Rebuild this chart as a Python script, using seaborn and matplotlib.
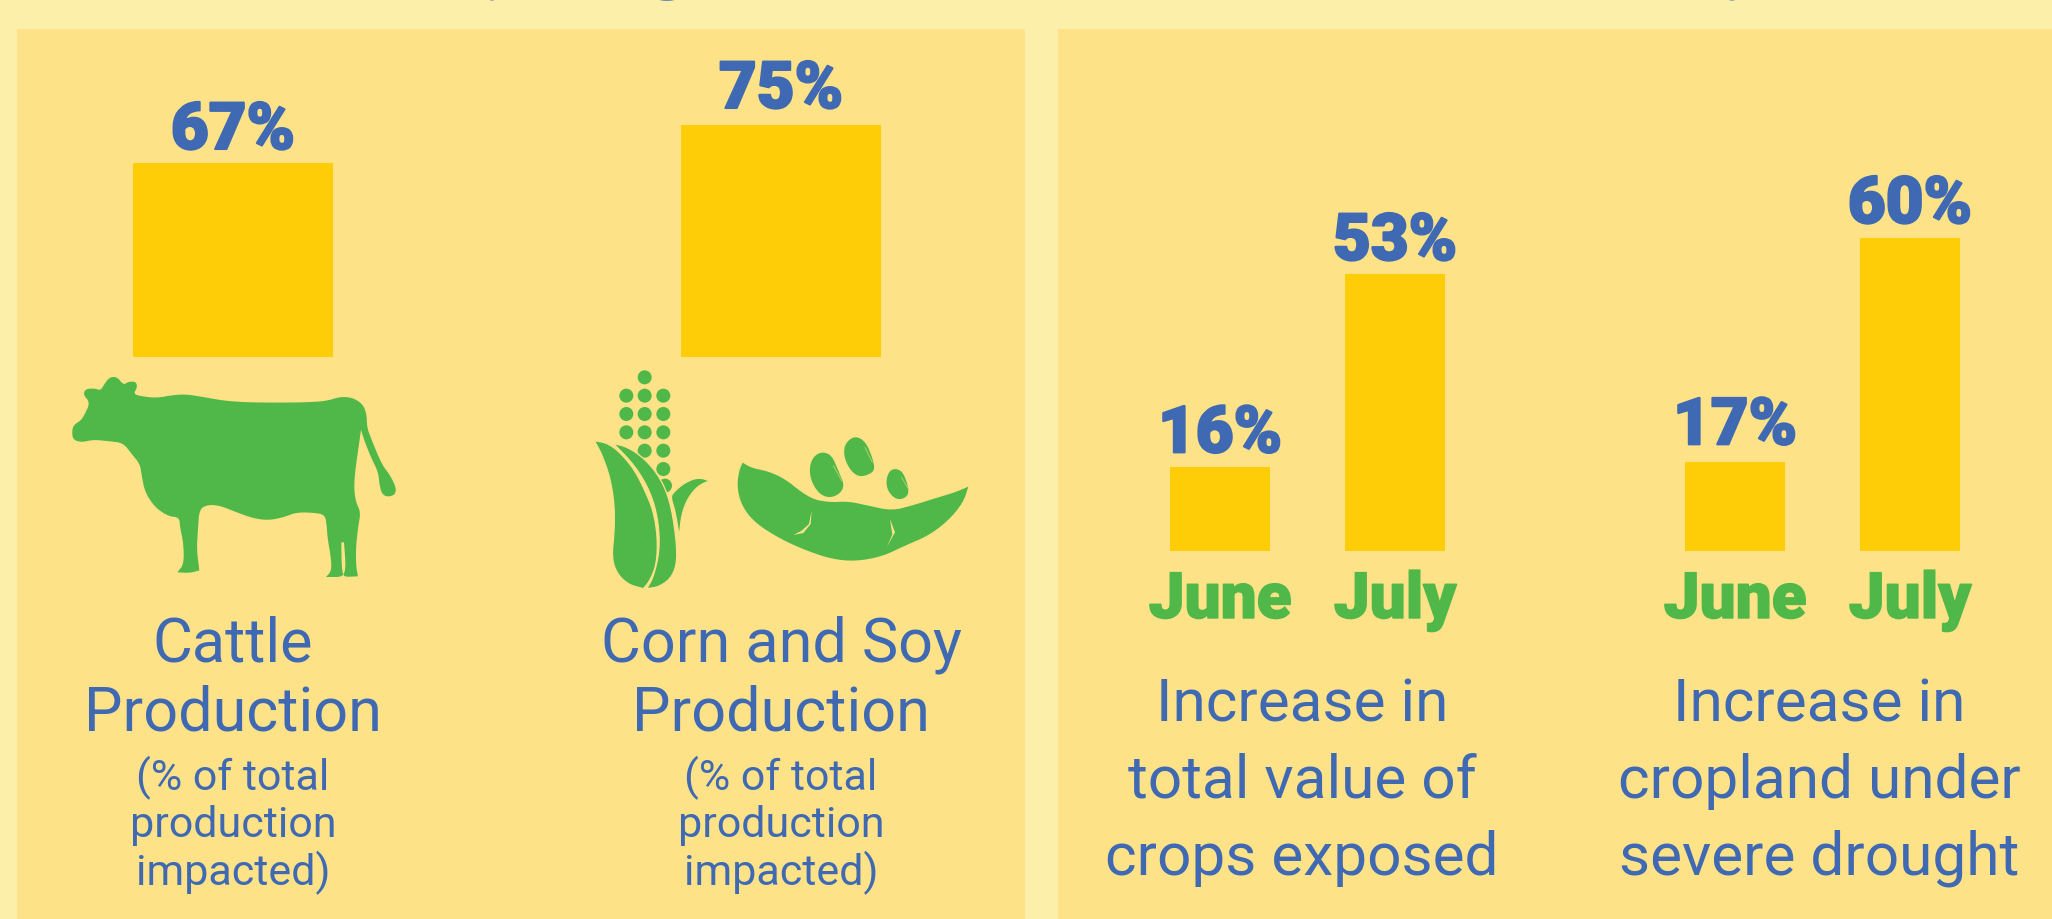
import numpy as np
import pandas as pd
import seaborn as sns
import matplotlib.pyplot as plt
import matplotlib.patheffects as pe
from matplotlib.patches import Rectangle, Ellipse, Polygon, Circle

# DATA
cattle_value = [67]
corn_soy_value = [75]
months = ["June", "July"]
crop_value = [16, 53]
cropland_value = [17, 60]

cattle_title = ["Cattle", "Production"]
corn_soy_title = ["Corn and Soy", "Production"]
note_lines = ["(% of total", "production", "impacted)"]
crop_title = ["Increase in", "total value of", "crops exposed"]
cropland_title = ["Increase in", "cropland under", "severe drought"]

# COLORS
BG = "#FBEFAA"
PANEL = "#FDE288"
BAR = "#FFCC08"
BLUE = "#3F69B3"
GREEN = "#50B849"

# ICON OUTLINES (traced, in pixels of the icon crop)
cow_outline = [(36,180),(45,165),(62,155),(75,135),(90,100),(70,78),(76,60),(105,58),(122,65),(135,42),(150,24),(172,24),
    (190,48),(205,38),(228,38),(232,55),(220,75),(245,82),(290,87),(340,78),(380,76),(430,84),(490,95),(560,100),
    (650,101),(740,100),(800,96),(840,83),(878,86),(908,105),(920,135),(921,175),(932,205),(948,245),(968,290),
    (990,318),(1008,355),(1006,376),(985,384),(966,376),(958,345),(955,310),(933,265),(913,215),(903,182),(903,182),(895,240),
    (885,310),(882,360),(888,400),(902,430),(895,470),(888,530),(888,590),(894,622),(894,622),(846,624),(858,600),(852,520),(852,520),
    (844,520),(844,520),(845,600),(852,624),(798,624),(798,624),(815,605),(812,560),(803,510),(800,470),(795,437),(760,431),(710,430),
    (670,445),(625,454),(580,448),(530,430),(480,410),(445,407),(418,420),(414,480),(410,540),(418,604),(418,604),(390,612),
    (352,610),(352,610),(372,585),(370,520),(360,475),(358,445),(325,442),(285,415),(255,370),(245,320),(240,285),(215,255),
    (190,222),(150,217),(100,212),(65,220),(38,212)]
corn_left_leaf = [(28,230),(28,230),(28,230),(70,238),(110,270),(150,320),(180,380),(205,440),(218,520),(215,600),(195,650),(175,674),(175,674),
    (130,662),(95,628),(80,580),(88,500),(88,420),(75,340),(50,270)]
corn_right_leaf = [(85,238),(85,238),(85,238),(130,250),(180,285),(225,340),(255,410),(272,510),(277,590),(262,638),(225,668),(185,674),(185,674),
    (205,640),(224,560),(220,470),(197,385),(150,305)]
corn_side_leaf = [(374,350),(374,350),(374,350),(340,340),(300,355),(265,385),(257,400),(270,440),(283,518),(283,518),(283,518),(290,450),(310,400),(340,365)]
corn_dots = [(179,40),(124,95),(179,95),(235,95),(124,150),(179,150),(235,150),(124,205),(179,205),(235,205),
    (179,260),(235,260),(235,315),(240,365)]
pod_outline = [(473,296),(473,296),(500,312),(550,322),(600,345),(650,385),(690,408),(740,415),(790,412),(850,425),(920,440),
    (980,425),(1060,400),(1110,385),(1150,368),(1150,368),(1150,368),(1135,415),(1090,470),(1030,515),(960,545),(890,578),(810,592),
    (740,585),(670,562),(590,527),(510,477),(470,425),(456,370),(462,320)]
pod_marks = [[(680,440),(672,480),(650,500),(625,513),(655,507),(677,480)],
    [(915,465),(930,505),(905,550),(922,512)]]
beans = [[(710,263),(740,273),(760,320),(779,365),(762,392),(730,402),(700,387),(678,350),(673,310),(685,278)],
    [(810,215),(842,233),(862,280),(870,317),(852,332),(820,339),(793,315),(776,275),(780,238)],
    [(935,313),(957,328),(974,385),(957,405),(930,405),(908,380),(903,350),(913,320)]]
bean_marks = [[(745,305),(770,350)], [(840,250),(862,295)], [(950,340),(968,372)]]
# stray descenders of the cut off heading
cut_heading_marks = [(492, 0, 3, 3), (667, 0, 9, 3.5), (1732, 0, 4, 3)]


def smooth(points, n_iter=2):
    pts = np.array(points, dtype=float)
    for _ in range(n_iter):
        nxt = np.roll(pts, -1, axis=0)
        pts = np.column_stack([0.75 * pts + 0.25 * nxt, 0.25 * pts + 0.75 * nxt]).reshape(-1, 2)
    return pts


def to_px(points, x0, y0):
    return np.array(points, dtype=float) / 3 + [x0, y0]


def bar_axes(fig, left, right, top, bottom):
    ax = fig.add_axes([left / W, 1 - bottom / H, (right - left) / W, (bottom - top) / H])
    ax.patch.set_alpha(0)
    return ax


def plot_bars(ax, names, values, width, pads):
    df = pd.DataFrame({"name": names, "value": values})
    sns.barplot(data=df, x="name", y="value", ax=ax, color=BAR, saturation=1, width=width, linewidth=0, edgecolor="none")
    ax.set_xlim(*XLIMS[len(names)])
    ax.set_ylim(0, max(values))
    ax.set_axis_off()
    for i, v in enumerate(values):
        ax.annotate("{}%".format(v), (i, v), xytext=(0, pads[i] * 0.72), textcoords="offset points",
                    ha="center", va="baseline", color=BLUE, fontsize=47, fontweight="black", annotation_clip=False,
                    path_effects=[pe.withStroke(linewidth=1.5, foreground=BLUE)])


def center_text(ax, x, y, text, size, color=BLUE, weight="normal", stroke=0):
    t = ax.text(x, y, text, ha="center", va="baseline", fontsize=size, color=color, fontweight=weight)
    if stroke:
        t.set_path_effects([pe.withStroke(linewidth=stroke, foreground=color)])


W, H = 2052, 920
XLIMS = {1: (-0.5, 0.5), 2: (-0.5, 1.5)}

sns.set_theme(style="white")
plt.rcParams["font.family"] = ["Roboto", "DejaVu Sans"]

fig = plt.figure(figsize=(W / 100, H / 100), dpi=100, facecolor=BG)

# BACKGROUND LAYER, IN PIXELS
bg = fig.add_axes([0, 0, 1, 1])
bg.set_xlim(0, W)
bg.set_ylim(H, 0)
bg.set_axis_off()
bg.add_patch(Rectangle((17, 30), 1008, 890, color=PANEL, lw=0))
bg.add_patch(Rectangle((1058, 30), 994, 890, color=PANEL, lw=0))
for x, y, w, h in cut_heading_marks:
    bg.add_patch(Ellipse((x, y), w * 2, h, color=BLUE, lw=0))

# COW
bg.add_patch(Polygon(smooth(to_px(cow_outline, 60, 370)), closed=True, color=GREEN, lw=0))

# CORN
for p in to_px(corn_dots, 585, 365):
    bg.add_patch(Circle(p, 7, color=GREEN, lw=0))
for leaf in [corn_side_leaf, corn_right_leaf, corn_left_leaf]:
    bg.add_patch(Polygon(smooth(to_px(leaf, 585, 365)), closed=True, fc=GREEN, ec=PANEL, lw=0.9))

# SOY
bg.add_patch(Polygon(smooth(to_px(pod_outline, 585, 365)), closed=True, color=GREEN, lw=0))
for mark in pod_marks:
    bg.add_patch(Polygon(to_px(mark, 585, 365), closed=True, color=PANEL, lw=0))
for bean in beans:
    bg.add_patch(Polygon(smooth(to_px(bean, 585, 365)), closed=True, color=GREEN, lw=0))
for mark in bean_marks:
    pts = to_px(mark, 585, 365)
    bg.plot(pts[:, 0], pts[:, 1], color=PANEL, lw=0.6, alpha=0.6)

# BARS, EACH GROUP ON ITS OWN SCALE
ax = bar_axes(fig, 133, 333, 164, 358)
plot_bars(ax, ["Cattle"], cattle_value, 1.0, [14])
ax = bar_axes(fig, 681, 881, 126, 358)
plot_bars(ax, ["Corn and Soy"], corn_soy_value, 1.0, [17])
ax = bar_axes(fig, 1132.5, 1482.5, 275, 552)
plot_bars(ax, months, crop_value, 100 / 175, [15, 14])
ax = bar_axes(fig, 1647.5, 1997.5, 239, 552)
plot_bars(ax, months, cropland_value, 100 / 175, [18, 15])

# TEXT
for x, title in [(233, cattle_title), (781, corn_soy_title)]:
    for y, line in zip([662, 731], title):
        center_text(bg, x, y, line, 44)
    for y, line in zip([790, 837, 885], note_lines):
        center_text(bg, x, y, line, 31)

for x, title in [(1302, crop_title), (1819, cropland_title)]:
    for y, line in zip([722, 798, 875], title):
        center_text(bg, x, y, line, 43.5)

for x, month in zip([1220, 1395, 1735, 1910], months * 2):
    center_text(bg, x, 619, month, 46, color=GREEN, weight="black", stroke=1)

plt.savefig("out.png", dpi=100, facecolor=BG)
plt.close()
